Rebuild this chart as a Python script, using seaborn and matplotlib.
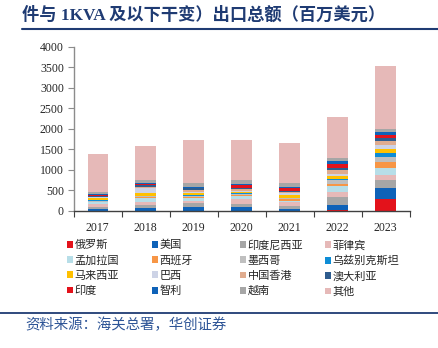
import numpy as np
import pandas as pd
import matplotlib
matplotlib.use("Agg")
import matplotlib.pyplot as plt
import seaborn as sns
from matplotlib.patches import Patch
from matplotlib.lines import Line2D

# ---------------- data ----------------
years = ["2017", "2018", "2019", "2020", "2021", "2022", "2023"]
countries = ["俄罗斯", "美国", "印度尼西亚", "菲律宾",
             "孟加拉国", "西班牙", "墨西哥", "乌兹别克斯坦",
             "马来西亚", "巴西", "中国香港", "澳大利亚",
             "印度", "智利", "越南", "其他"]

russia     = [5, 5, 5, 5, 5, 10, 285]
usa        = [45, 65, 80, 80, 30, 140, 285]
indonesia  = [55, 80, 100, 95, 90, 195, 180]
philippines= [55, 55, 60, 100, 80, 122, 130]
bangladesh = [50, 110, 80, 90, 40, 138, 155]
spain      = [15, 20, 25, 20, 35, 57, 146]
mexico     = [25, 20, 20, 30, 30, 90, 138]
uzbekistan = [15, 15, 25, 15, 15, 25, 105]
malaysia   = [40, 65, 30, 35, 65, 81, 98]
brazil     = [25, 115, 40, 25, 40, 41, 98]
hongkong   = [20, 40, 35, 40, 35, 98, 90]
australia  = [20, 40, 50, 30, 30, 49, 65]
india      = [25, 35, 20, 55, 60, 98, 81]
chile      = [15, 25, 15, 30, 30, 65, 57]
vietnam    = [60, 60, 100, 95, 100, 73, 81]
others     = [920, 830, 1035, 975, 965, 1000, 1545]

series = [russia, usa, indonesia, philippines, bangladesh, spain, mexico,
          uzbekistan, malaysia, brazil, hongkong, australia, india, chile,
          vietnam, others]

colors = ["#E3121B", "#0E62B8", "#A6A6A6", "#E6B9B8",
          "#B7DEE8", "#F79646", "#BFBFBF", "#0E8DD6",
          "#FFC000", "#CDD3E6", "#E0AC8F", "#2E5C8E",
          "#E3121B", "#0E62B8", "#A6A6A6", "#E6B9B8"]

# ---------------- figure ----------------
sns.set_theme(style="white")
plt.rcParams["font.family"] = ["Noto Sans CJK SC", "DejaVu Sans"]

fig = plt.figure(figsize=(4.38, 3.48), dpi=100)
ax = fig.add_axes([0.168, 0.394, 0.767, 0.471])

vals = np.array(series, dtype=float)
cum = np.cumsum(vals, axis=0)
for i in range(len(series) - 1, -1, -1):
    df = pd.DataFrame({"year": years, "v": cum[i]})
    sns.barplot(data=df, x="year", y="v", order=years, color=colors[i],
                saturation=1, width=0.42, linewidth=0, ax=ax)

ax.set_xlim(-0.5, 6.5)
ax.set_ylim(0, 4000)
ax.set_yticks(np.arange(0, 4001, 500))
ax.set_xlabel("")
ax.set_ylabel("")
for s in ["top", "right"]:
    ax.spines[s].set_visible(False)
ax.spines["left"].set_color("#8C8C8C")
ax.spines["left"].set_linewidth(1.0)
ax.spines["bottom"].set_color("#404040")
ax.spines["bottom"].set_linewidth(1.0)

ax.tick_params(axis="y", left=True, direction="out", length=4, width=0.8,
               color="#8C8C8C", pad=3, labelsize=8.5)
ax.tick_params(axis="x", which="major", bottom=True, length=0, pad=8, labelsize=8.5)
ax.set_xticks(np.arange(-0.5, 7.0, 1.0), minor=True)
ax.tick_params(axis="x", which="minor", bottom=True, direction="out", length=4,
               width=0.8, color="#404040")
for lab in ax.get_xticklabels() + ax.get_yticklabels():
    lab.set_family(["Liberation Serif", "DejaVu Serif"])
    lab.set_color("#262626")

# ---------------- legend (4 columns, row-major) ----------------
col_x = [67, 152, 240, 325]
for c in range(4):
    idx = [c + 4 * r for r in range(4)]
    handles = [Patch(facecolor=colors[k], edgecolor="none") for k in idx]
    labels = [countries[k] for k in idx]
    fig.legend(handles, labels, loc="upper left",
               bbox_to_anchor=(col_x[c] / 438, 1 - 240 / 348),
               frameon=False, ncol=1, fontsize=8,
               handlelength=0.55, handleheight=0.55, handletextpad=0.15,
               labelspacing=0.45, borderpad=0, borderaxespad=0)

# ---------------- title, rules, source ----------------
fig.text(22 / 438, 1 - 15 / 348, "件与 1KVA 及以下干变）出口总额（百万美元）",
         fontsize=12.4, fontweight="bold", color="#1F3B73", va="center", ha="left",
         family=["Liberation Serif", "Noto Sans CJK SC"])
fig.add_artist(Line2D([22 / 438, 1.0], [1 - 29 / 348] * 2, color="#1F3B73",
                      lw=1.5, transform=fig.transFigure))
fig.add_artist(Line2D([0.0, 1.0], [1 - 313 / 348] * 2, color="#1F3B73",
                      lw=1.3, transform=fig.transFigure))
fig.text(25 / 438, 1 - 325 / 348, "资料来源：海关总署，华创证券",
         fontsize=10.4, style="italic", color="#2E5597", va="center", ha="left")

fig.savefig("out.png", dpi=100)
